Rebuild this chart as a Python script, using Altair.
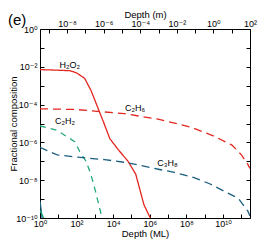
import altair as alt
import pandas as pd

# ---- data (x: depth in ML, y: fractional composition)
h2o2_x = [1, 10, 44, 98, 270, 600, 1350, 3000, 6500, 1.9e4, 6.5e4, 1.7e5, 2.8e5, 4.8e5, 1.07e6]
h2o2_y = [7.1e-3, 6.6e-3, 6.2e-3, 4.8e-3, 2.5e-3, 5.9e-4, 8.1e-5, 1.15e-5, 1.6e-6, 4.1e-7, 1.0e-7, 2.1e-8, 3.5e-9, 5.0e-10, 1e-10]

c2h6_x = [1, 98, 4.1e4, 2.8e6, 1.66e8, 2.75e9, 3.1e10, 1.02e11, 2.3e11, 3.0e11]
c2h6_y = [6.0e-5, 5.5e-5, 3.3e-5, 1.7e-5, 6.5e-6, 2.3e-6, 7.2e-7, 2.2e-7, 6.9e-8, 4.2e-8]

c2h2_x = [1, 8.7, 79, 148, 330, 600, 1100, 2000, 2400]
c2h2_y = [7.4e-6, 4.3e-6, 1.1e-6, 3.3e-7, 1.0e-7, 2.1e-8, 2.4e-9, 2.3e-10, 1e-10]

c3h8_x = [1, 3.3, 8.7, 98, 740, 3400, 6.5e4, 2.95e6, 2.2e7, 2.45e8, 1.86e9, 1.38e10, 6.9e10, 2.3e11, 3.0e11]
c3h8_y = [5.5e-7, 3.2e-7, 2.2e-7, 1.66e-7, 1.38e-7, 1.23e-7, 8.3e-8, 3.8e-8, 2.6e-8, 1.4e-8, 6.5e-9, 2.4e-9, 1.1e-9, 2.3e-10, 1.26e-10]

minor1_x = [1, 1.3]
minor1_y = [8.0e-10, 1e-10]
minor2_x = [1, 1.6]
minor2_y = [2.5e-10, 1e-10]

series_names = ["H2O2", "C2H6", "C2H2", "C3H8", "m1", "m2"]
series_colors = ["#e3261f", "#e3261f", "#23a97a", "#1b5e7e", "#1b5e7e", "#23a97a"]
series_dash = [[1, 0], [8, 5], [6, 5], [8, 5], [1, 0], [1, 0]]

label_text = ["H₂O₂", "C₂H₆", "C₂H₂", "C₃H₈"]
label_x = [42, 1.55e5, 23, 9.3e6]
label_y = [1.2e-2, 7.0e-5, 1.3e-5, 8.3e-8]

# axis tick labels
sup = {"0": "⁰", "1": "¹", "2": "²", "3": "³", "4": "⁴", "5": "⁵",
       "6": "⁶", "7": "⁷", "8": "⁸", "9": "⁹", "-": "⁻"}


def pow_label(e):
    return "10" + "".join(sup[c] for c in str(e))


ml_exps = list(range(0, 12))
m_exps = list(range(-9, 3))
y_exps = list(range(-10, 1))


def label_expr(exps):
    arr = [pow_label(e) if e % 2 == 0 else "" for e in exps]
    js = "[" + ",".join("'" + s + "'" for s in arr) + "]"
    return f"{js}[round(log(datum.value)/LN10){'+' if exps[0] <= 0 else '-'}{abs(exps[0])}]"


rows = []
all_series = [(h2o2_x, h2o2_y), (c2h6_x, c2h6_y), (c2h2_x, c2h2_y), (c3h8_x, c3h8_y),
              (minor1_x, minor1_y), (minor2_x, minor2_y)]
for name, (xs, ys) in zip(series_names, all_series):
    for i, (a, b) in enumerate(zip(xs, ys)):
        rows.append({"species": name, "ml": a, "frac": b, "idx": i})
df = pd.DataFrame(rows)

df_lab = pd.DataFrame({"t": label_text, "ml": label_x, "frac": label_y})
df_top = pd.DataFrame({"m": [3.3e-10, 100], "frac": [1e-10, 1]})

W, H = 210, 189
FONT = "Liberation Sans, DejaVu Sans, sans-serif"
common_axis = dict(domain=False, grid=False, tickSize=4, offset=-4, tickColor="#000",
                   tickWidth=1, labelFont=FONT, labelFontSize=9, labelColor="#000",
                   titleFont=FONT, titleFontSize=9.5, titleFontWeight="normal",
                   titleColor="#000", labelFlush=False, labelOverlap=False, labelBound=False)

x_scale = alt.Scale(type="log", domain=[1, 3.0e11], nice=False)
y_scale = alt.Scale(type="log", domain=[1e-10, 1], nice=False)

x_axis = alt.Axis(orient="bottom", values=[10 ** e for e in ml_exps],
                  labelExpr=label_expr(ml_exps), title="Depth (ML)", labelPadding=1,
                  titlePadding=0, **common_axis)
y_axis = alt.Axis(orient="left", values=[10.0 ** e for e in y_exps],
                  labelExpr=label_expr(y_exps), title="Fractional composition",
                  labelPadding=3, titleX=-31, titleY=H / 2, titleAngle=270,
                  titleAlign="center", titleBaseline="middle", **common_axis)

lines = alt.Chart(df).mark_line(clip=True, strokeWidth=1.3).encode(
    x=alt.X("ml:Q", scale=x_scale, axis=x_axis),
    y=alt.Y("frac:Q", scale=y_scale, axis=y_axis),
    color=alt.Color("species:N", scale=alt.Scale(domain=series_names, range=series_colors), legend=None),
    strokeDash=alt.StrokeDash("species:N", scale=alt.Scale(domain=series_names, range=series_dash), legend=None),
    detail="species:N",
    order="idx:Q",
)

labels = alt.Chart(df_lab).mark_text(font=FONT, fontSize=9, color="#000").encode(
    x=alt.X("ml:Q", scale=x_scale, axis=None),
    y=alt.Y("frac:Q", scale=y_scale, axis=None),
    text="t:N",
)

top = alt.Chart(df_top).mark_point(opacity=0).encode(
    x=alt.X("m:Q", scale=alt.Scale(type="log", domain=[3.3e-10, 100], nice=False),
            axis=alt.Axis(orient="top", values=[10.0 ** e for e in m_exps],
                          labelExpr=label_expr(m_exps), title="Depth (m)",
                          labelPadding=1, titlePadding=0, **common_axis)),
    y=alt.Y("frac:Q", scale=y_scale,
            axis=alt.Axis(orient="right", values=[10.0 ** e for e in y_exps],
                          labels=False, title=None, **common_axis)),
)

chart = alt.layer(lines, labels, top).resolve_scale(x="independent").resolve_axis(
    x="independent", y="independent"
).properties(
    width=W, height=H,
    padding={"left": 32, "top": 21, "right": 8, "bottom": 21},
    autosize=alt.AutoSizeParams(type="none"),
    title=alt.TitleParams("(e)", anchor="start", frame="group", font=FONT, fontSize=15,
                          fontWeight="normal", color="#000", dx=-32, dy=19, offset=0),
).configure_view(stroke="#000", strokeWidth=1)

chart.save("out.html", embed_options={"renderer": "svg", "actions": False})
